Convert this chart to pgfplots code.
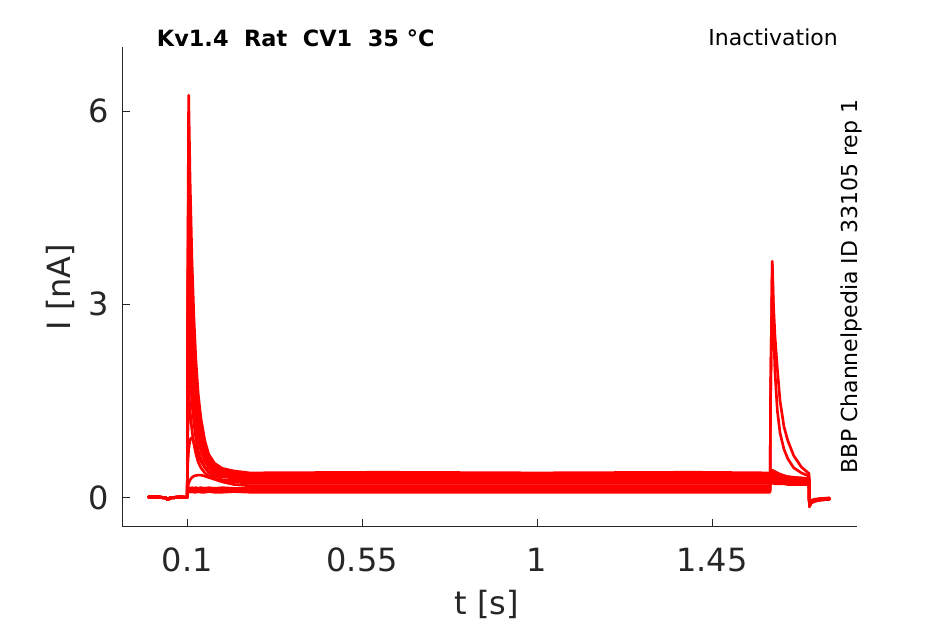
\documentclass[border=0pt]{standalone}
\usepackage{fontspec}
\setmainfont{DejaVu Sans}
\usepackage{pgfplots}
\usepackage{pgfplotstable}
\pgfplotsset{compat=1.18}
\definecolor{axgray}{HTML}{262626}
\definecolor{tracered}{RGB}{255,0,0}

\pgfplotstableread{
t T1 T2 T3 T4 T5 T6 T7 T8 T9 T10 T11 T12
0.000 0.01 0.00 0.01 0.00 0.01 0.00 0.01 0.00 0.01 0.00 0.01 0.00
0.025 0.00 0.01 0.00 0.01 0.00 0.01 0.00 0.01 0.00 0.01 0.00 0.01
0.045 -0.01 -0.01 -0.01 -0.01 -0.01 -0.01 -0.01 -0.01 -0.01 -0.01 -0.01 -0.01
0.050 -0.03 -0.04 -0.03 -0.04 -0.03 -0.04 -0.03 -0.04 -0.03 -0.04 -0.03 -0.04
0.055 -0.01 -0.01 -0.01 -0.01 -0.01 -0.01 -0.01 -0.01 -0.01 -0.01 -0.01 -0.01
0.080 0.00 0.01 0.00 0.01 0.00 0.01 0.00 0.01 0.00 0.01 0.00 0.01
0.1000 0.00 0.00 0.00 0.00 0.00 0.00 0.00 0.00 0.00 0.00 0.00 0.00
0.1010 3.10 2.75 2.40 2.05 1.60 1.20 0.85 0.50 0.15 0.14 0.11 0.08
0.1035 6.25 5.50 4.80 4.10 3.20 2.40 1.66 0.75 0.22 0.15 0.11 0.09
0.107 4.96 4.37 3.82 3.27 2.56 1.94 1.35 0.90 0.27 0.14 0.12 0.08
0.112 3.67 3.24 2.84 2.44 1.93 1.47 1.04 0.93 0.31 0.15 0.11 0.09
0.117 2.79 2.47 2.17 1.88 1.50 1.16 0.83 0.85 0.33 0.14 0.11 0.08
0.122 2.14 1.90 1.68 1.46 1.18 0.92 0.68 0.76 0.34 0.15 0.12 0.08
0.128 1.61 1.44 1.28 1.12 0.92 0.73 0.55 0.66 0.345 0.14 0.11 0.09
0.135 1.23 1.11 0.99 0.88 0.73 0.60 0.46 0.56 0.345 0.15 0.11 0.08
0.145 0.88 0.80 0.72 0.65 0.56 0.47 0.38 0.46 0.33 0.14 0.12 0.08
0.155 0.67 0.62 0.56 0.52 0.46 0.40 0.33 0.39 0.31 0.15 0.11 0.09
0.170 0.53 0.49 0.45 0.42 0.38 0.34 0.30 0.32 0.28 0.14 0.11 0.08
0.190 0.45 0.42 0.39 0.38 0.35 0.32 0.27 0.27 0.24 0.15 0.12 0.08
0.220 0.41 0.39 0.36 0.35 0.32 0.30 0.265 0.24 0.20 0.14 0.11 0.09
0.260 0.38 0.36 0.34 0.33 0.31 0.29 0.26 0.22 0.18 0.14 0.11 0.08
0.600 0.39 0.36 0.35 0.33 0.31 0.29 0.26 0.22 0.18 0.15 0.11 0.08
1.000 0.38 0.37 0.34 0.33 0.31 0.28 0.26 0.22 0.18 0.14 0.11 0.08
1.400 0.39 0.36 0.34 0.32 0.31 0.29 0.25 0.22 0.18 0.14 0.12 0.08
1.5995 0.38 0.36 0.34 0.33 0.31 0.29 0.26 0.22 0.18 0.14 0.11 0.08
1.6005 0.40 0.36 0.33 0.31 0.29 0.27 0.25 0.23 0.21 1.50 1.50 0.35
1.605 0.42 0.38 0.34 0.32 0.30 0.28 0.26 0.24 0.22 3.67 3.62 0.42
1.608 0.41 0.37 0.33 0.31 0.29 0.27 0.25 0.23 0.22 2.70 3.00 0.41
1.612 0.39 0.35 0.32 0.30 0.28 0.27 0.25 0.23 0.21 1.95 2.50 0.40
1.618 0.37 0.34 0.31 0.29 0.28 0.26 0.24 0.23 0.21 1.35 2.00 0.38
1.625 0.35 0.33 0.30 0.29 0.27 0.26 0.24 0.22 0.21 1.00 1.50 0.36
1.635 0.33 0.32 0.29 0.28 0.27 0.25 0.24 0.22 0.21 0.75 1.10 0.34
1.645 0.32 0.31 0.28 0.27 0.26 0.25 0.23 0.22 0.20 0.60 0.88 0.32
1.660 0.31 0.30 0.28 0.27 0.26 0.24 0.23 0.22 0.20 0.46 0.65 0.31
1.680 0.30 0.29 0.27 0.26 0.25 0.24 0.23 0.21 0.20 0.38 0.47 0.30
1.6995 0.29 0.28 0.27 0.26 0.25 0.24 0.23 0.21 0.20 0.33 0.37 0.29
1.7005 -0.15 -0.14 -0.13 -0.12 -0.11 -0.10 -0.10 -0.09 -0.08 -0.13 -0.12 -0.08
1.705 -0.09 -0.08 -0.08 -0.07 -0.07 -0.06 -0.06 -0.05 -0.05 -0.08 -0.07 -0.05
1.715 -0.06 -0.06 -0.05 -0.05 -0.05 -0.04 -0.04 -0.04 -0.03 -0.05 -0.05 -0.03
1.730 -0.04 -0.04 -0.04 -0.03 -0.03 -0.03 -0.03 -0.02 -0.02 -0.04 -0.03 -0.02
1.752 -0.03 -0.03 -0.03 -0.02 -0.02 -0.02 -0.02 -0.02 -0.01 -0.03 -0.02 -0.01
}\traces

\begin{document}
\begin{tikzpicture}
\useasboundingbox (0,0) rectangle (708.75pt,468pt);
\begin{axis}[
  at={(91.5pt,72.98pt)}, anchor=south west,
  width=551.25pt, height=359.8pt, scale only axis,
  xmin=-0.068, xmax=1.823, ymin=-0.456, ymax=7.0,
  axis x line*=bottom, axis y line*=left,
  axis line style={axgray, line width=0.75pt},
  tick align=inside, major tick length=6pt,
  tick style={axgray, line width=0.75pt},
  xtick={0.1,0.55,1,1.45}, xticklabels={0.1,0.55,1,1.45},
  ytick={0,3,6}, yticklabels={0,3,6},
  /pgf/number format/assume math mode=true,
  tick label style={font=\fontsize{24}{28}\selectfont, text=axgray},
  xticklabel style={inner sep=0pt, yshift=-15.75pt},
  yticklabel style={inner sep=0pt, xshift=-9.75pt},
  trace/.style={tracered, solid, line width=2pt, line join=round, line cap=round, mark=none},
]
\addplot[trace] table[x=t, y=T12] {\traces};
\addplot[trace] table[x=t, y=T11] {\traces};
\addplot[trace] table[x=t, y=T10] {\traces};
\addplot[trace] table[x=t, y=T9] {\traces};
\addplot[trace] table[x=t, y=T8] {\traces};
\addplot[trace] table[x=t, y=T7] {\traces};
\addplot[trace] table[x=t, y=T6] {\traces};
\addplot[trace] table[x=t, y=T5] {\traces};
\addplot[trace] table[x=t, y=T4] {\traces};
\addplot[trace] table[x=t, y=T3] {\traces};
\addplot[trace] table[x=t, y=T2] {\traces};
\addplot[trace] table[x=t, y=T1] {\traces};
\end{axis}
\node[anchor=base west, inner sep=0pt, font=\fontsize{16.8}{20}\selectfont\bfseries] at (117.5pt,432.75pt) {Kv1.4\ \ Rat\ \ CV1\ \ 35 °C};
\node[anchor=base east, inner sep=0pt, font=\fontsize{16.5}{20}\selectfont] at (628.5pt,433.5pt) {Inactivation};
\node[rotate=90, anchor=base, inner sep=0pt, font=\fontsize{16.5}{20}\selectfont] at (642.75pt,253.1pt) {BBP Channelpedia ID 33105 rep 1};
\node[rotate=90, anchor=base, inner sep=0pt, text=axgray, font=\fontsize{24}{28}\selectfont] at (52.9pt,252.75pt) {I [nA]};
\node[anchor=base, inner sep=0pt, text=axgray, font=\fontsize{24}{28}\selectfont] at (365.25pt,6.75pt) {t [s]};
\end{tikzpicture}
\end{document}
